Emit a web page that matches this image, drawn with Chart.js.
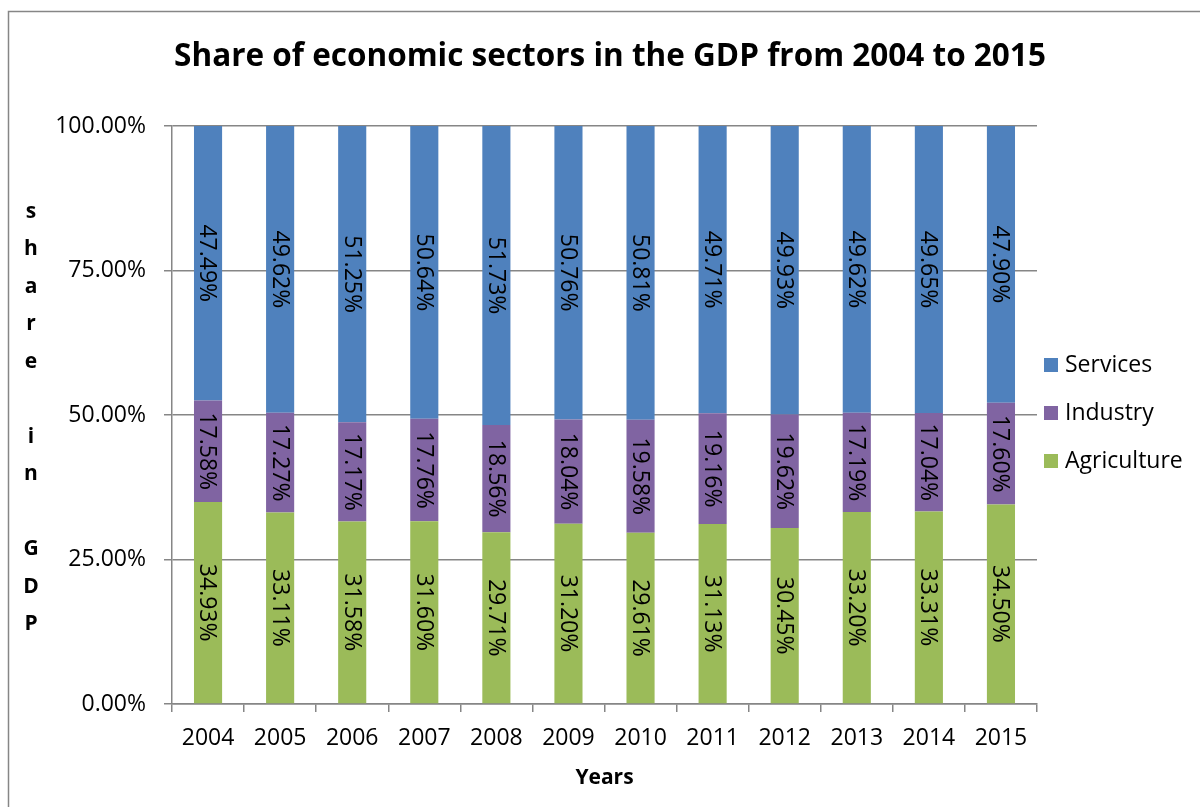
<!DOCTYPE html>
<html lang="en">
<head>
    <meta charset="UTF-8">
    <title>Share of economic sectors in the GDP</title>
    <script src="https://cdn.jsdelivr.net/npm/chart.js"></script>
    <style>
        html, body {
            margin: 0;
            padding: 0;
            background: #fff;
        }
        #wrap {
            width: 1200px;
            height: 807px;
        }
    </style>
</head>
<body>
    <div id="wrap">
        <canvas id="gdpChart" width="1200" height="807"></canvas>
    </div>
    <script>
        // years and sector shares (%)
        const years = ['2004', '2005', '2006', '2007', '2008', '2009', '2010', '2011', '2012', '2013', '2014', '2015'];
        const agriculture = [34.93, 33.11, 31.58, 31.60, 29.71, 31.20, 29.61, 31.13, 30.45, 33.20, 33.31, 34.50];
        const industry = [17.58, 17.27, 17.17, 17.76, 18.56, 18.04, 19.58, 19.16, 19.62, 17.19, 17.04, 17.60];
        const services = [47.49, 49.62, 51.25, 50.64, 51.73, 50.76, 50.81, 49.71, 49.93, 49.62, 49.65, 47.90];
        const yTicks = [0, 25, 50, 75, 100];
        const yTitle = ['s', 'h', 'a', 'r', 'e', '', 'i', 'n', '', 'G', 'D', 'P'];

        const FONT = "'Open Sans', 'DejaVu Sans', sans-serif";
        const GRID = '#868686';

        // frame, title, vertical axis title, value labels and legend
        const extras = {
            id: 'extras',
            beforeDraw(chart) {
                const ctx = chart.ctx;
                ctx.save();
                ctx.strokeStyle = GRID;
                ctx.lineWidth = 1.5;
                ctx.beginPath();
                ctx.moveTo(8.5, 807);
                ctx.lineTo(8.5, 11.5);
                ctx.lineTo(1200, 11.5);
                ctx.stroke();
                ctx.restore();
            },
            afterDatasetsDraw(chart) {
                const ctx = chart.ctx;
                ctx.save();
                ctx.font = '23px ' + FONT;
                ctx.fillStyle = '#000';
                ctx.textAlign = 'center';
                ctx.textBaseline = 'middle';
                chart.data.datasets.forEach((ds, i) => {
                    chart.getDatasetMeta(i).data.forEach((bar, j) => {
                        const cy = (bar.y + bar.base) / 2;
                        ctx.save();
                        ctx.translate(bar.x, cy);
                        ctx.rotate(Math.PI / 2);
                        ctx.fillText(ds.data[j].toFixed(2) + '%', 0, 1);
                        ctx.restore();
                    });
                });
                ctx.restore();
            },
            afterDraw(chart) {
                const ctx = chart.ctx;
                ctx.save();
                ctx.fillStyle = '#000';
                ctx.textBaseline = 'middle';

                // title
                ctx.textAlign = 'center';
                ctx.font = 'bold 31.5px ' + FONT;
                ctx.fillText('Share of economic sectors in the GDP from 2004 to 2015', 610, 57);

                // stacked letters of the y axis title
                ctx.font = 'bold 21px ' + FONT;
                yTitle.forEach((ch, i) => {
                    ctx.fillText(ch, 31, 212 + i * 37.5);
                });

                // legend, top entry is the top of the stack
                ctx.textAlign = 'left';
                ctx.font = '23px ' + FONT;
                const items = chart.data.datasets.slice().reverse();
                items.forEach((ds, i) => {
                    const cy = 365 + i * 48;
                    ctx.fillStyle = ds.backgroundColor;
                    ctx.fillRect(1044, cy - 7, 14, 14);
                    ctx.fillStyle = '#000';
                    ctx.fillText(ds.label, 1065, cy);
                });
                ctx.restore();
            }
        };

        new Chart(document.getElementById('gdpChart'), {
            type: 'bar',
            data: {
                labels: years,
                datasets: [
                    { label: 'Agriculture', data: agriculture, backgroundColor: '#9BBB59' },
                    { label: 'Industry', data: industry, backgroundColor: '#8064A2' },
                    { label: 'Services', data: services, backgroundColor: '#4F81BD' }
                ]
            },
            options: {
                responsive: false,
                animation: false,
                layout: {
                    padding: { left: 0, top: 126, right: 163, bottom: 0 }
                },
                datasets: {
                    bar: { barPercentage: 0.39, categoryPercentage: 1 }
                },
                plugins: {
                    legend: { display: false },
                    title: { display: false },
                    tooltip: { enabled: false }
                },
                scales: {
                    x: {
                        stacked: true,
                        afterFit(scale) { scale.height = 103; },
                        grid: { drawOnChartArea: false, color: GRID, tickLength: 8, lineWidth: 1.5, offset: true },
                        border: { color: GRID, width: 1.5 },
                        ticks: { color: '#000', padding: 13, font: { family: FONT, size: 23 } },
                        title: {
                            display: true,
                            text: 'Years',
                            color: '#000',
                            font: { family: FONT, size: 21, weight: 'bold' },
                            padding: { top: 0, bottom: 16 }
                        }
                    },
                    y: {
                        stacked: true,
                        min: 0,
                        max: 100,
                        afterFit(scale) { scale.width = 172; },
                        afterBuildTicks(scale) {
                            scale.ticks = yTicks.map(v => ({ value: v }));
                        },
                        grid: { color: GRID, tickLength: 8, lineWidth: 1.5 },
                        border: { color: GRID, width: 1.5 },
                        ticks: {
                            color: '#000',
                            padding: 18,
                            font: { family: FONT, size: 23 },
                            callback: v => v.toFixed(2) + '%'
                        }
                    }
                }
            },
            plugins: [extras]
        });
    </script>
</body>
</html>
